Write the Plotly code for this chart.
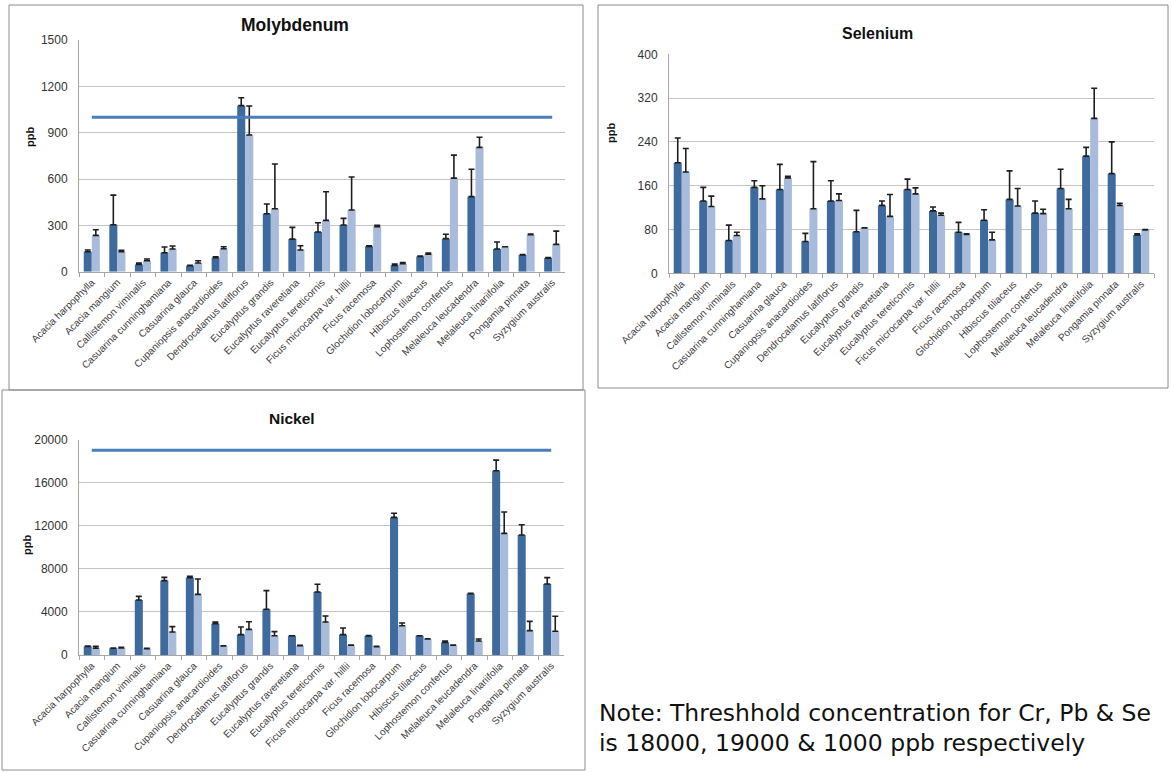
import plotly.graph_objects as go

W, H = 1171, 772

species = ["Acacia harpophylla", "Acacia mangium", "Callistemon viminalis",
           "Casuarina cunninghamiana", "Casuarina glauca", "Cupaniopsis anacardioides",
           "Dendrocalamus latiflorus", "Eucalyptus grandis", "Eucalyptus raveretiana",
           "Eucalyptus tereticornis", "Ficus microcarpa var. hillii", "Ficus racemosa",
           "Glochidion lobocarpum", "Hibiscus tiliaceus", "Lophostemon confertus",
           "Melaleuca leucadendra", "Melaleuca linariifolia", "Pongamia pinnata",
           "Syzygium australis"]

# Molybdenum (ppb)
mo_dark = [129, 304, 47, 123, 39, 91, 1075, 375, 211, 257, 302, 164, 41, 99, 214, 486, 147, 108, 88]
mo_dark_err = [11, 192, 9, 37, 3, 6, 51, 63, 76, 60, 43, 3, 9, 3, 28, 177, 45, 3, 3]
mo_light = [235, 129, 71, 147, 56, 149, 885, 408, 140, 332, 399, 291, 52, 114, 606, 805, 162, 240, 177]
mo_light_err = [37, 9, 11, 19, 15, 13, 188, 289, 28, 186, 214, 9, 8, 7, 149, 65, 0, 3, 86]
mo_threshold = 1000

# Selenium (ppb)
se_dark = [202, 132, 60, 157, 153, 58, 132, 76, 124, 153, 114, 75, 97, 135, 110, 155, 214, 182, 70]
se_dark_err = [45, 25, 28, 12, 46, 15, 37, 39, 8, 19, 7, 18, 19, 52, 22, 35, 16, 58, 2]
se_light = [185, 122, 69, 136, 174, 118, 133, 83, 104, 145, 106, 71, 61, 123, 109, 118, 283, 124, 79]
se_light_err = [43, 19, 6, 24, 3, 86, 12, 0, 40, 11, 4, 1, 14, 32, 8, 17, 55, 4, 1]

# Nickel (ppb)
ni_dark = [800, 620, 5100, 6900, 7175, 2910, 1890, 4240, 1790, 5850, 1890, 1760, 12770, 1790, 1175, 5690, 17100, 11130, 6590]
ni_dark_err = [30, 30, 340, 300, 125, 150, 710, 1730, 0, 710, 610, 40, 380, 0, 125, 40, 990, 960, 590]
ni_light = [620, 650, 590, 2130, 5630, 835, 2380, 1790, 866, 3060, 900, 770, 2720, 1485, 900, 1300, 11290, 2260, 2200]
ni_light_err = [180, 60, 30, 500, 1420, 30, 710, 375, 30, 560, 30, 30, 250, 30, 30, 185, 1980, 860, 1390]
ni_threshold = 19000

note_lines = ["Note: Threshhold concentration for Cr, Pb & Se",
              "is 18000, 19000 & 1000 ppb respectively"]

DARK = "#3E6A9E"
LIGHT = "#A9BBDA"
LINE = "#4A7EBB"
ERR = "#1E1E1E"
FONT = "Liberation Sans"


def px_x(p):
    return p / W


def px_y(p):
    return 1 - p / H


fig = go.Figure()


def add_panel(idx, dark, dark_err, light, light_err, threshold=None):
    xa = "x" if idx == 1 else f"x{idx}"
    ya = "y" if idx == 1 else f"y{idx}"
    for vals, errs, col in ((dark, dark_err, DARK), (light, light_err, LIGHT)):
        fig.add_trace(go.Bar(
            x=species, y=vals, xaxis=xa, yaxis=ya, marker=dict(color=col, line=dict(width=0)),
            error_y=dict(type="data", symmetric=False, array=errs, arrayminus=[0] * len(errs),
                         color=ERR, thickness=1.6, width=3),
            showlegend=False, offsetgroup=col))
    if threshold is not None:
        fig.add_trace(go.Scatter(
            x=species, y=[threshold] * len(species), xaxis=xa, yaxis=ya, mode="lines",
            line=dict(color=LINE, width=3), showlegend=False))


add_panel(1, mo_dark, mo_dark_err, mo_light, mo_light_err, mo_threshold)
add_panel(2, se_dark, se_dark_err, se_light, se_light_err)
add_panel(3, ni_dark, ni_dark_err, ni_light, ni_light_err, ni_threshold)

xcommon = dict(type="category", showline=True, linecolor="#A6A6A6", linewidth=1,
               ticks="outside", tickson="boundaries", ticklen=4, tickcolor="#A6A6A6",
               tickangle=-45, tickfont=dict(family=FONT, size=10, color="#404040"),
               showgrid=False, fixedrange=True, automargin=False)
ycommon = dict(showline=True, linecolor="#A6A6A6", linewidth=1, showgrid=True,
               gridcolor="#C4C4C4", gridwidth=1, zeroline=False, ticks="",
               tickfont=dict(family=FONT, size=12, color="#333333"), tickformat="d",
               ticklabelstandoff=8, fixedrange=True, automargin=False)

fig.update_layout(
    width=W, height=H, margin=dict(l=0, r=0, t=0, b=0, autoexpand=False),
    paper_bgcolor="white", plot_bgcolor="white",
    barmode="group", bargap=0.37, bargroupgap=0,
    xaxis=dict(xcommon, domain=[px_x(79), px_x(565)], anchor="y"),
    yaxis=dict(ycommon, domain=[px_y(271.7), px_y(40)], range=[0, 1500], dtick=300, anchor="x"),
    xaxis2=dict(xcommon, domain=[px_x(669), px_x(1154)], anchor="y2"),
    yaxis2=dict(ycommon, domain=[px_y(273.3), px_y(54.3)], range=[0, 400], dtick=80, anchor="x2"),
    xaxis3=dict(xcommon, domain=[px_x(79), px_x(564)], anchor="y3"),
    yaxis3=dict(ycommon, domain=[px_y(655), px_y(439.5)], range=[0, 20000], dtick=4000, anchor="x3"),
)

# panel borders
for (x0, y0, x1, y1) in [(9, 5, 583, 390), (598, 5, 1168, 388), (2, 390, 585, 770)]:
    fig.add_shape(type="rect", xref="paper", yref="paper",
                  x0=px_x(x0), x1=px_x(x1), y0=px_y(y1), y1=px_y(y0),
                  line=dict(color="#8C8C8C", width=1), fillcolor="rgba(0,0,0,0)", layer="below")

annots = []
for text, cx, cy, fs in [("Molybdenum", 295, 25, 17.5), ("Selenium", 877, 33, 16), ("Nickel", 292, 418, 15.5)]:
    annots.append(dict(text=f"<b>{text}</b>", x=px_x(cx), y=px_y(cy), xref="paper", yref="paper",
                       showarrow=False, xanchor="center", yanchor="middle",
                       font=dict(family=FONT, size=fs, color="#111111")))
for cx, cy in [(30, 137), (611, 133), (27, 545)]:
    annots.append(dict(text="<b>ppb</b>", x=px_x(cx), y=px_y(cy), xref="paper", yref="paper",
                       showarrow=False, xanchor="center", yanchor="middle", textangle=-90,
                       font=dict(family=FONT, size=11, color="#111111")))
for line, cy in zip(note_lines, (713, 743)):
    annots.append(dict(text=line, x=px_x(597), y=px_y(cy), xref="paper", yref="paper",
                       showarrow=False, xanchor="left", yanchor="middle", align="left",
                       font=dict(family="DejaVu Sans", size=23.5, color="#111111")))
fig.update_layout(annotations=annots)

fig.write_html("out.html", config={"displayModeBar": False, "staticPlot": True},
               post_script="document.body.style.margin='0';document.body.style.overflow='hidden';")
